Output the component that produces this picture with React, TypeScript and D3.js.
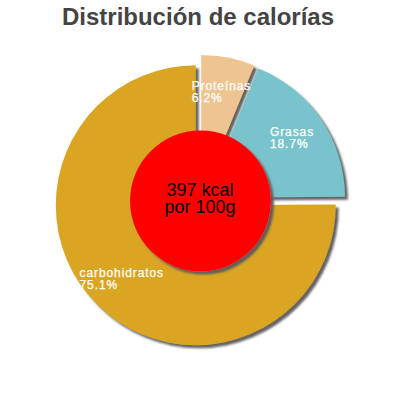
import React, { useEffect, useRef } from "react";
import * as d3 from "d3";

const title = "Distribución de calorías";
const categories = ["Proteínas", "Grasas", "carbohidratos"];
const values = [6.2, 18.7, 75.1];
const colors = ["#EEC591", "#79C3CC", "#DAA520"];
const centerLines = ["397 kcal", "por 100g"];

export default function App() {
  const ref = useRef<SVGSVGElement | null>(null);

  useEffect(() => {
    const svg = d3.select(ref.current);
    svg.selectAll("*").remove();
    const W = 400;
    const cx = 200, cy = 201, r = 140, offset = 6, labelR = 105;

    const defs = svg.append("defs");
    const f = defs.append("filter").attr("id", "shadow")
      .attr("x", "-20%").attr("y", "-20%").attr("width", "140%").attr("height", "140%");
    f.append("feDropShadow").attr("dx", 3).attr("dy", 3).attr("stdDeviation", 0.8)
      .attr("flood-color", "#5a5a5a").attr("flood-opacity", 0.95);

    svg.append("rect").attr("width", W).attr("height", 400).attr("fill", "#fff");

    svg.append("text").attr("x", 198).attr("y", 25).attr("text-anchor", "middle")
      .attr("font-family", "'Liberation Sans', Arial, sans-serif")
      .attr("font-weight", "bold").attr("font-size", 24).attr("fill", "#444")
      .text(title);

    const pie = d3.pie<number>().sort(null).startAngle(0).endAngle(2 * Math.PI);
    const arcs = pie(values);
    const arc = d3.arc<d3.PieArcDatum<number>>().innerRadius(0).outerRadius(r);

    const centers = arcs.map((a) => {
      const mid = (a.startAngle + a.endAngle) / 2;
      return [cx + offset * Math.sin(mid), cy - offset * Math.cos(mid)];
    });

    arcs.forEach((a, i) => {
      svg.append("path")
        .attr("d", arc(a) as string)
        .attr("transform", `translate(${centers[i][0]},${centers[i][1]})`)
        .attr("fill", colors[i])
        .attr("filter", "url(#shadow)");
    });

    // labels
    arcs.forEach((a, i) => {
      const mid = (a.startAngle + a.endAngle) / 2;
      const lx = centers[i][0] + labelR * Math.sin(mid);
      const ly = centers[i][1] - labelR * Math.cos(mid);
      const g = svg.append("g");
      const lines = [categories[i], values[i].toFixed(1) + "%"];
      const texts = lines.map((t, k) =>
        g.append("text")
          .attr("y", ly - 2.5 + k * 12)
          .attr("font-family", "'Liberation Sans', Arial, sans-serif")
          .attr("font-size", 12)
          .attr("letter-spacing", 0.9)
          .attr("fill", "#fff")
          .attr("stroke", "#fff").attr("stroke-width", 0.25)
          .text(t)
      );
      const widths = texts.map((t) => (t.node() as SVGTextElement).getComputedTextLength());
      const mw = Math.max(...widths);
      texts.forEach((t) => t.attr("x", lx - mw / 2));
    });

    svg.append("circle").attr("cx", 200.5).attr("cy", 201).attr("r", 70.5)
      .attr("fill", "#FF0000").attr("filter", "url(#shadow)");

    centerLines.forEach((t, k) => {
      svg.append("text").attr("x", 200).attr("y", 196 + k * 17)
        .attr("text-anchor", "middle")
        .attr("font-family", "'Liberation Sans', Arial, sans-serif")
        .attr("font-size", 18).attr("fill", "#000")
        .text(t);
    });
  }, []);

  return (
    <svg ref={ref} width={400} height={400}
      style={{ position: "absolute", left: 0, top: 0, display: "block" }} />
  );
}
